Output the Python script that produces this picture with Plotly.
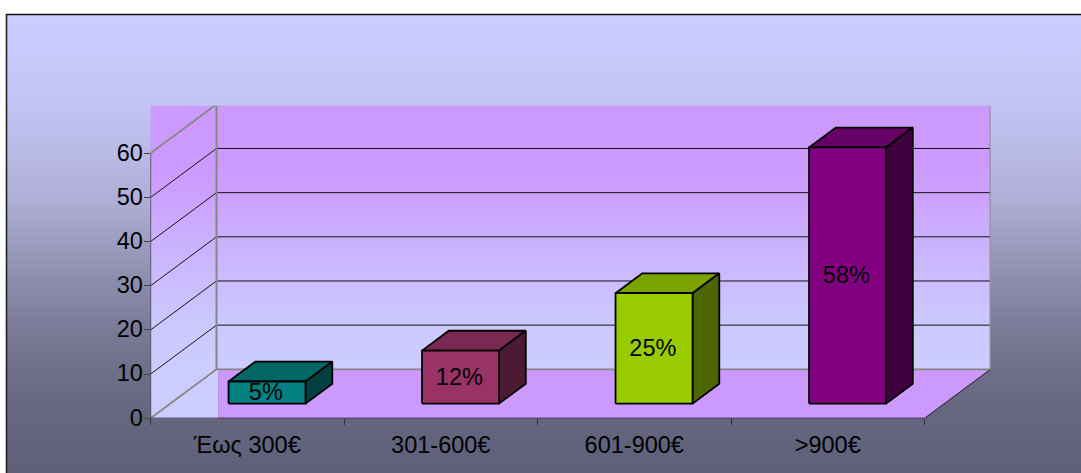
import plotly.graph_objects as go

# ---- data ----
categories = ["Έως 300€", "301-600€", "601-900€", ">900€"]
values = [5, 12, 25, 58]
labels = ["5%", "12%", "25%", "58%"]
y_ticks = [0, 10, 20, 30, 40, 50, 60]
front_colors = ["#008080", "#993366", "#99CC00", "#800080"]
top_colors = ["#006666", "#7A2952", "#7AA300", "#660066"]
side_colors = ["#004040", "#4D1A33", "#4D6600", "#400040"]

W, H = 1081, 473
# plot box in pixels (front-left origin to back-right top)
X0, X1, Y0, Y1 = 150.5, 990.5, 418.3, 105.7
CAT_PX = 193.5
UNIT_PX = 265.0 / 60
DX = 66 / CAT_PX          # depth shift, x units
DY = 49 / UNIT_PX         # depth shift, y units
XMIN = -0.5
XMAX = XMIN + (X1 - X0) / CAT_PX
YMAX = (Y0 - Y1) / UNIT_PX
BAR_W = 0.398
D0, D1 = 0.30, 0.705
XFRONT = XMIN + 4
YTOP = 60
GRAY = "#868686"
# vertical gradients run from the bottom of the shape to its top
WALL_SCALE = [[0, "#CCCCFF"], [0.17, "#CCC8FF"], [0.336, "#CBBCFF"], [0.5, "#CBB0FF"], [0.68, "#CC9FFF"], [0.8, "#CC99FF"], [1, "#CC99FF"]]
PAGE_SCALE = [[0, "#5F5F78"], [0.159, "#686882"], [0.268, "#747490"], [0.333, "#7E7E9C"], [0.42, "#8C8CAC"],
              [0.508, "#9E9EC2"], [0.595, "#AEAED6"], [0.704, "#BABAE6"], [0.813, "#C4C4F4"], [1, "#CCCCFF"]]

fig = go.Figure()


def p(x, y, d=0.0):
    return x + d * DX, y + d * DY


def poly(pts, fill=None, line=None, width=1.0, gradient=None):
    xs = [a for a, _ in pts]
    ys = [b for _, b in pts]
    kw = {}
    if fill:
        kw["fillcolor"] = fill
    if gradient:
        kw["fillgradient"] = gradient
    fig.add_trace(go.Scatter(
        x=xs, y=ys, xaxis="x2", yaxis="y2", mode="lines",
        fill="toself" if (fill or gradient) else None,
        line=dict(color=line or "rgba(0,0,0,0)", width=width if line else 0),
        hoverinfo="skip", showlegend=False, **kw))


# page background
fig.add_trace(go.Scatter(
    x=[6, W, W, 6, 6], y=[14, 14, H, H, 14], mode="lines", fill="toself",
    fillgradient=dict(type="vertical", colorscale=PAGE_SCALE),
    line=dict(width=0, color="rgba(0,0,0,0)"), hoverinfo="skip", showlegend=False))

# walls and floor
left_edge = XMIN + 68 / CAT_PX
wall_grad = dict(type="vertical", colorscale=WALL_SCALE, start=DY, stop=YMAX)
poly([(XMIN, -0.7), (left_edge, -0.7), (left_edge, YMAX), (XMIN, YMAX), (XMIN, -0.7)], gradient=wall_grad)
poly([p(XMIN, 0, 1), p(XFRONT, 0, 1), p(XFRONT, YTOP, 1), p(XMIN, YTOP, 1), p(XMIN, 0, 1)], gradient=wall_grad)
poly([(left_edge, DY), p(XFRONT, 0, 1), p(XFRONT, 0, 0), (left_edge, 0), (left_edge, DY)], fill="#CC99FF")

# gridlines
for t in y_ticks[1:-1]:
    poly([p(XMIN, t, 0), p(XMIN, t, 1), p(XFRONT, t, 1)], line="#141414", width=1)

# wall outline
poly([p(XMIN, YTOP, 0), p(XMIN, YTOP, 1), p(XFRONT, YTOP, 1), p(XFRONT, 0, 1), p(XMIN, 0, 1), p(XMIN, 0, 0)], line=GRAY, width=1.8)
poly([p(XMIN, 0, 1), p(XMIN, YTOP, 1)], line=GRAY, width=2)
poly([p(XFRONT, 0, 1), p(XFRONT, 0, 0)], line="#222222", width=1)
poly([p(XMIN, 0, 0), p(XFRONT, 0, 0)], line="#000000", width=1.3)
poly([p(XMIN, 0, 0), p(XMIN, YTOP, 0)], line="#333333", width=1.3)

# bars
for i, v in enumerate(values):
    a, b = i - BAR_W / 2, i + BAR_W / 2
    poly([p(a, v, D0), p(b, v, D0), p(b, v, D1), p(a, v, D1), p(a, v, D0)],
         fill=top_colors[i], line="#000000", width=1.8)
    poly([p(b, 0, D0), p(b, 0, D1), p(b, v, D1), p(b, v, D0), p(b, 0, D0)],
         fill=side_colors[i], line="#000000", width=1.8)
    poly([p(a, 0, D0), p(b, 0, D0), p(b, v, D0), p(a, v, D0), p(a, 0, D0)],
         fill=front_colors[i], line="#000000", width=1.8)

# value labels, centred on each front face
lx, ly = zip(*[p(i - 1.2 / CAT_PX, v / 2 - 1.8 / UNIT_PX, D0) for i, v in enumerate(values)])
fig.add_trace(go.Scatter(
    x=list(lx), y=list(ly), xaxis="x2", yaxis="y2", mode="text", text=labels,
    textposition="middle center", textfont=dict(family="Liberation Sans", size=23.5, color="#000000"),
    hoverinfo="skip", showlegend=False))

fig.update_layout(
    width=W, height=H, margin=dict(l=0, r=0, t=0, b=0, autoexpand=False),
    paper_bgcolor="#FFFFFF", plot_bgcolor="rgba(0,0,0,0)", showlegend=False,
    font=dict(family="Liberation Sans", size=23.5, color="#000000"),
    xaxis=dict(domain=[0, 1], range=[0, W], visible=False, fixedrange=True),
    yaxis=dict(domain=[0, 1], range=[H, 0], visible=False, fixedrange=True),
    xaxis2=dict(
        domain=[X0 / W, X1 / W], range=[XMIN, XMAX], anchor="y2",
        tickmode="array", tickvals=list(range(len(categories))), ticktext=categories,
        ticks="", showgrid=False, zeroline=False, showline=False, ticklabelstandoff=10,
        automargin=False,
        minor=dict(tickmode="array", tickvals=[-0.5, 0.5, 1.5, 2.5, 3.5], ticks="outside",
                   ticklen=6, tickwidth=1, tickcolor="#333333", showgrid=False),
        fixedrange=True),
    yaxis2=dict(
        domain=[1 - Y0 / H, 1 - Y1 / H], range=[0, YMAX], anchor="x2",
        tickmode="array", tickvals=y_ticks, ticks="outside", ticklen=6, tickwidth=1,
        tickcolor="#444444", showgrid=False, zeroline=False, showline=False, fixedrange=True,
        ticklabelstandoff=-4, ticklabelshift=-1, automargin=False),
    shapes=[
        dict(type="line", xref="paper", yref="paper", x0=6.5 / W, x1=6.5 / W, y0=1 - 14 / H, y1=0,
             line=dict(color="#222222", width=1.6)),
        dict(type="line", xref="paper", yref="paper", x0=6 / W, x1=1, y0=1 - 14.5 / H, y1=1 - 14.5 / H,
             line=dict(color="#111111", width=1.4)),
    ],
)

fig.write_html("out.html", config={"displayModeBar": False},
               post_script="document.body.style.margin='0';document.body.style.overflow='hidden';")
